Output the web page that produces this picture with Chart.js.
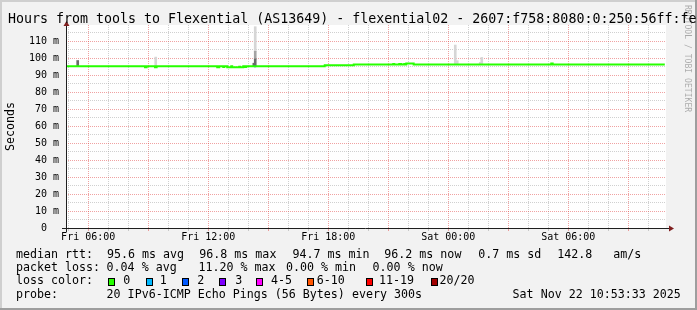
<!DOCTYPE html>
<html><head><meta charset="utf-8">
<script src="https://cdn.jsdelivr.net/npm/chart.js@4.4.1/dist/chart.umd.min.js"></script>
<style>
html,body{margin:0;padding:0;background:#f2f2f2;}
#wrap{position:relative;width:697px;height:310px;overflow:hidden;background:#f2f2f2;font-family:"DejaVu Sans Mono",monospace;color:#000;}
#c{position:absolute;left:0;top:0;}
.shade{position:absolute;}
.t{position:absolute;white-space:pre;font-size:11.65px;line-height:13.5px;}
.sw{position:absolute;width:5px;height:6px;border:1px solid #000;top:278.3px;}
#title{position:absolute;left:8px;top:11.4px;font-size:13.3px;line-height:16px;white-space:pre;}
#wm{position:absolute;left:683px;top:5px;font-size:8.1px;line-height:10px;width:10px;writing-mode:vertical-rl;white-space:pre;color:rgba(0,0,0,0.3);}
</style></head><body>
<div id="wrap">
<div class="shade" style="left:0;top:0;width:697px;height:2px;background:#cfcfcf"></div>
<div class="shade" style="left:0;top:0;width:2px;height:310px;background:#cfcfcf"></div>
<div class="shade" style="left:695px;top:0;width:2px;height:310px;background:#9e9e9e"></div>
<div class="shade" style="left:0;top:308px;width:697px;height:2px;background:#9e9e9e"></div>
<canvas id="c" width="697" height="310" style="width:697px;height:310px"></canvas>
<div id="wm">RRDTOOL / TOBI OETIKER</div>
<div id="title">Hours from tools to Flexential (AS13649) - flexential02 - 2607:f758:8080:0:250:56ff:fe</div>
<div id="footer"></div>
</div>
<script>
// ---- data (hours since Fri 00:00, values in ms) ----
const xMin = 4.89;
const xMax = 34.885;
const xTickHours = [6, 12, 18, 24, 30];
const xTickLabels = ['Fri 06:00', 'Fri 12:00', 'Fri 18:00', 'Sat 00:00', 'Sat 06:00'];
const yMax = 119.5;
const yTickValues = [0, 10, 20, 30, 40, 50, 60, 70, 80, 90, 100, 110];
const yTickLabels = ['0  ', '10 m', '20 m', '30 m', '40 m', '50 m', '60 m', '70 m', '80 m', '90 m', '100 m', '110 m'];

const medianHours = [4.89, 8.84, 8.92, 9.34, 9.42, 12.45, 12.55, 12.75, 12.8, 12.95, 13.15, 13.2, 13.55, 13.6, 13.75, 13.85, 13.9,
  17.825, 19.275, 21.25, 21.3, 21.55, 21.65, 21.8, 21.85, 21.9, 22.27, 29.15, 29.22, 34.825];
const medianMs = [95.2, 94.7, 95.2, 94.7, 95.2, 94.7, 95.2, 94.8, 95.2, 94.7, 95.2, 94.6, 94.9, 94.6, 95.2, 94.8, 95.2,
  95.75, 96.3, 96.6, 96.3, 96.6, 96.3, 96.6, 96.3, 96.8, 96.3, 96.8, 96.3, 96.3];

const loss2Hours = [14.29, 14.345];
const loss2Ms = [95.2, 95.2];
const loss3Hours = [14.345, 14.395];
const loss3Ms = [95.2, 95.2];

const lightSmokeHours = [9.375, 14.35, 24.35, 24.45, 25.6, 25.675];
const lightSmokeLow = [95.3, 104.0, 96.5, 96.5, 96.5, 96.5];
const lightSmokeHigh = [100.6, 118.5, 107.7, 98.5, 97.5, 100.4];
const midSmokeHours = [14.35];
const midSmokeLow = [99.5];
const midSmokeHigh = [104.0];
const darkSmokeHours = [5.475, 14.28, 14.35];
const darkSmokeLow = [95.3, 95.3, 95.3];
const darkSmokeHigh = [98.6, 97.0, 99.5];

const lossLabels = ['0', '1', '2', '3', '4-5', '6-10', '11-19', '20/20'];
const lossColors = ['#26ff00', '#00b8ff', '#0059ff', '#7e00ff', '#ff00ff', '#ff5500', '#ff0000', '#a10000'];

const statRows = [
  [[16, 'median rtt:'], [107, '95.6 ms avg'], [199.3, '96.8 ms max'], [292.5, '94.7 ms min'], [384.3, '96.2 ms now'], [478.3, '0.7 ms sd'], [557.2, '142.8'], [613.3, 'am/s']],
  [[16, 'packet loss:'], [106.6, '0.04 % avg'], [198.5, '11.20 % max'], [286, '0.00 % min'], [372.6, '0.00 % now']],
  [[16, 'loss color:']],
  [[16, 'probe:'], [106.6, '20 IPv6-ICMP Echo Pings (56 Bytes) every 300s'], [512.6, 'Sat Nov 22 10:53:33 2025']]
];
const rowTops = [247.5, 260.8, 274.2, 287.9];
const swatchLefts = [108, 145.7, 182.3, 219, 256, 307.3, 366, 430.7];
const swatchLabelLefts = [123.3, 159.8, 197.2, 235.3, 271, 316.8, 379, 439.5];

// ---- footer text ----
const footer = document.getElementById('footer');
statRows.forEach((row, r) => row.forEach(([x, s]) => {
  const d = document.createElement('div'); d.className = 't';
  d.style.left = x + 'px'; d.style.top = rowTops[r] + 'px'; d.textContent = s; footer.appendChild(d);
}));
lossLabels.forEach((lab, i) => {
  const sq = document.createElement('div'); sq.className = 'sw';
  sq.style.left = swatchLefts[i] + 'px'; sq.style.background = lossColors[i]; footer.appendChild(sq);
  const d = document.createElement('div'); d.className = 't';
  d.style.left = swatchLabelLefts[i] + 'px'; d.style.top = rowTops[2] + 'px'; d.textContent = lab; footer.appendChild(d);
});

// ---- chart ----
Chart.defaults.font.family = "'DejaVu Sans Mono', monospace";
Chart.defaults.color = '#000';
const toXY = (xs, ys) => xs.map((x, i) => ({x: x, y: ys[i]}));
const toBar = (xs, lo, hi) => xs.map((x, i) => ({x: x, y: [lo[i], hi[i]]}));
const MINOR = 'rgba(150,150,150,0.45)';
const MAJOR = 'rgba(225,70,70,0.5)';

const plotBg = {id: 'plotBg', beforeDraw(chart) {
  const {ctx, chartArea: a} = chart;
  ctx.save(); ctx.fillStyle = '#ffffff';
  ctx.fillRect(a.left, a.top, a.right - a.left, a.bottom - a.top); ctx.restore();
}};
const axesPlugin = {id: 'axesArrows', afterDraw(chart) {
  const {ctx, chartArea: a} = chart;
  ctx.save();
  ctx.strokeStyle = '#1f1f1f'; ctx.lineWidth = 1;
  ctx.beginPath();
  ctx.moveTo(a.left - 4, a.bottom + 0.5); ctx.lineTo(a.right + 3, a.bottom + 0.5);
  ctx.moveTo(a.left + 0.5, a.bottom + 4); ctx.lineTo(a.left + 0.5, a.top - 2);
  ctx.stroke();
  ctx.fillStyle = '#7f1f1f';
  ctx.beginPath();
  ctx.moveTo(a.left + 0.5, a.top - 4); ctx.lineTo(a.left - 2.5, a.top + 1); ctx.lineTo(a.left + 3.5, a.top + 1); ctx.closePath(); ctx.fill();
  ctx.beginPath();
  ctx.moveTo(a.right + 8, a.bottom + 0.5); ctx.lineTo(a.right + 3, a.bottom - 2.5); ctx.lineTo(a.right + 3, a.bottom + 3.5); ctx.closePath(); ctx.fill();
  ctx.restore();
}};

new Chart(document.getElementById('c'), {
  type: 'bar',
  data: {datasets: [
    {type: 'line', label: 'median', data: toXY(medianHours, medianMs), borderColor: '#26ff00', borderWidth: 2, pointRadius: 0, stepped: true, fill: false, order: 0, borderCapStyle: 'butt'},
    {type: 'line', label: 'loss 2', data: toXY(loss2Hours, loss2Ms), borderColor: '#0059ff', borderWidth: 2, pointRadius: 0, fill: false, order: 0},
    {type: 'line', label: 'loss 3', data: toXY(loss3Hours, loss3Ms), borderColor: '#7e00ff', borderWidth: 2, pointRadius: 0, fill: false, order: 0},
    {type: 'bar', label: 'smoke light', data: toBar(lightSmokeHours, lightSmokeLow, lightSmokeHigh), backgroundColor: '#d6d6d6', barThickness: 2, grouped: false, order: 3},
    {type: 'bar', label: 'smoke mid', data: toBar(midSmokeHours, midSmokeLow, midSmokeHigh), backgroundColor: '#a4a4a4', barThickness: 2, grouped: false, order: 2},
    {type: 'bar', label: 'smoke dark', data: toBar(darkSmokeHours, darkSmokeLow, darkSmokeHigh), backgroundColor: '#6a6a6a', barThickness: 2, grouped: false, order: 1}
  ]},
  options: {
    responsive: false, animation: false, devicePixelRatio: 1,
    layout: {padding: {left: 0, top: 25, right: 31, bottom: 62}},
    plugins: {legend: {display: false}, tooltip: {enabled: false}, title: {display: false}},
    scales: {
      x: {
        type: 'linear', min: xMin, max: xMax, offset: false,
        afterFit(s) { s.height = 20; },
        afterBuildTicks(s) { const t = []; for (let h = Math.ceil(xMin); h <= xMax; h++) t.push({value: h}); s.ticks = t; },
        ticks: {autoSkip: false, maxRotation: 0, minRotation: 0, padding: 0, font: {size: 10},
          callback(v) { const i = xTickHours.indexOf(v); return i >= 0 ? xTickLabels[i] : ''; }},
        grid: {offset: false, lineWidth: 1, drawTicks: true, tickLength: 3,
          color: c => (c.tick && c.tick.value % 3 === 0) ? MAJOR : MINOR,
          tickColor: c => (c.tick && c.tick.value % 3 === 0) ? MAJOR : MINOR},
        border: {display: false, dash: [1, 1]}
      },
      y: {
        type: 'linear', min: 0, max: yMax,
        afterFit(s) { s.width = 66; },
        afterBuildTicks(s) { const t = []; for (let v = 0; v <= yMax; v += 5) t.push({value: v}); s.ticks = t; },
        ticks: {autoSkip: false, padding: 7, font: {size: 10},
          callback(v) { const i = yTickValues.indexOf(v); return i >= 0 ? yTickLabels[i] : ''; }},
        grid: {drawTicks: false, lineWidth: 1, color: c => (c.tick && c.tick.value % 10 === 0) ? MAJOR : MINOR},
        border: {display: false, dash: [1, 1]},
        title: {display: true, text: 'Seconds', font: {size: 11.65}, padding: {top: 4, bottom: 0}, color: '#000'}
      }
    }
  },
  plugins: [plotBg, axesPlugin]
});
</script>
</body></html>
